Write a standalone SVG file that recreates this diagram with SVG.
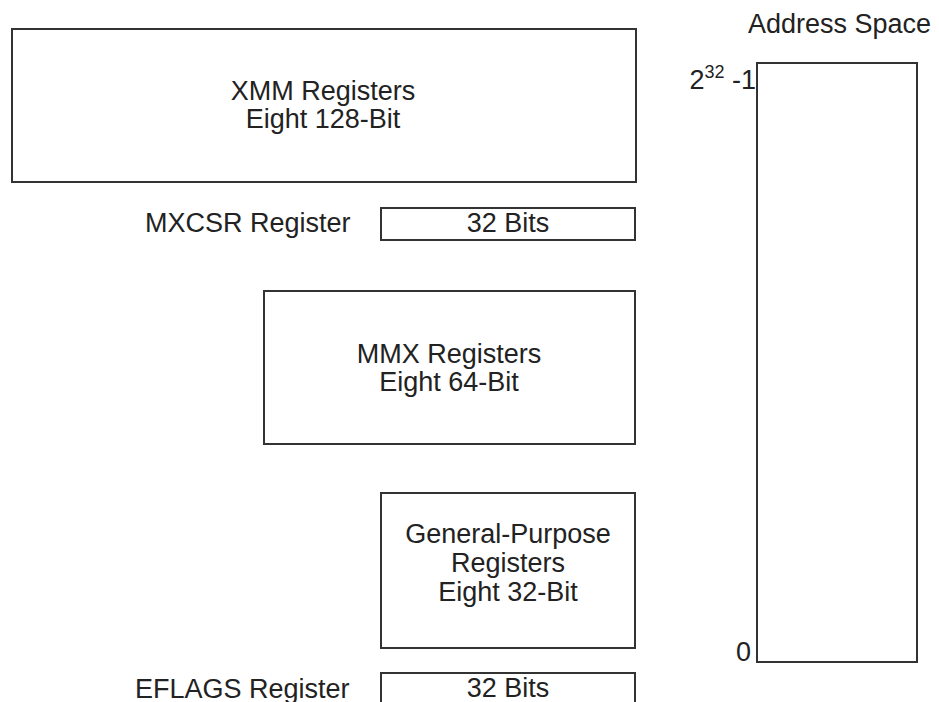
<svg xmlns="http://www.w3.org/2000/svg" width="939" height="702" viewBox="0 0 939 702">
<style>
.box{fill:#fff;stroke:#333;stroke-width:2}
.t{font-family:"Liberation Sans",Arial,sans-serif;font-size:27px;fill:#222}
.c{text-anchor:middle}
</style>
<rect x="0" y="0" width="939" height="702" fill="#fff"/>
<g id="xmm">
<rect class="box" x="12" y="29" width="624" height="153"/>
<text class="t c" x="323" y="100">XMM Registers</text>
<text class="t c" x="323" y="128">Eight 128-Bit</text>
</g>
<g id="mxcsr">
<text class="t" x="145" y="232">MXCSR Register</text>
<rect class="box" x="381" y="208" width="254" height="32"/>
<text class="t c" x="508" y="232">32 Bits</text>
</g>
<g id="mmx">
<rect class="box" x="264" y="291" width="371" height="153"/>
<text class="t c" x="449" y="363">MMX Registers</text>
<text class="t c" x="449" y="391">Eight 64-Bit</text>
</g>
<g id="gpr">
<rect class="box" x="381" y="493" width="254" height="155"/>
<text class="t c" x="508" y="543">General-Purpose</text>
<text class="t c" x="508" y="572">Registers</text>
<text class="t c" x="508" y="601">Eight 32-Bit</text>
</g>
<g id="eflags">
<text class="t" x="135" y="698">EFLAGS Register</text>
<rect class="box" x="381" y="673" width="254" height="40"/>
<text class="t c" x="508" y="697">32 Bits</text>
</g>
<g id="address-space">
<text class="t" x="748" y="33">Address Space</text>
<rect class="box" x="757" y="63" width="160" height="599"/>
<text class="t" x="756" y="89" text-anchor="end">2<tspan font-size="18" dy="-11">32</tspan><tspan dy="11"> -1</tspan></text>
<text class="t" x="736" y="661">0</text>
</g>
<g id="connectors"/>
</svg>
